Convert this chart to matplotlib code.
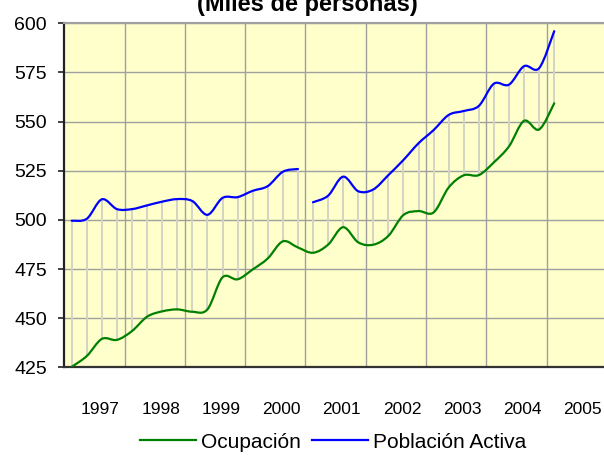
import matplotlib
matplotlib.use("Agg")
import matplotlib.pyplot as plt
import numpy as np
from matplotlib.path import Path
from matplotlib.patches import PathPatch
from matplotlib.lines import Line2D

# ---- data (quarterly, 1997 Q1 .. 2005 Q1) ----
year_labels = ['1997', '1998', '1999', '2000', '2001', '2002', '2003', '2004', '2005']
ocupacion = [425.3, 430.8, 439.5, 439.0, 443.5, 450.8, 453.5, 454.5, 453.3, 454.5,
             470.8, 469.8, 474.8, 480.4, 489.1, 486.0, 483.3, 487.4, 496.3, 488.6,
             487.4, 491.9, 502.5, 504.5, 503.8, 516.5, 522.7, 522.8, 529.3, 537.4,
             550.4, 546.0, 559.3]
# Población Activa: series broken between 2000 Q4 and 2001 Q1
pob_activa_1 = [499.6, 500.6, 510.5, 505.5, 505.5, 507.4, 509.3, 510.6, 509.6, 502.6,
                511.2, 511.6, 514.8, 517.2, 524.5, 525.9]
pob_activa_2 = [509.0, 512.3, 522.0, 514.6, 515.5, 522.8, 530.5, 539.0, 545.7, 553.4,
                555.4, 558.0, 569.3, 568.8, 578.2, 577.2, 596.0]
y_ticks = [425, 450, 475, 500, 525, 550, 575, 600]

GREEN = '#008000'
BLUE = '#0000FF'


def smooth_path(xs, ys):
    """Catmull-Rom style cubic Bezier through the data points (Excel 'smoothed line')."""
    n = len(xs)
    verts = [(xs[0], ys[0])]
    codes = [Path.MOVETO]
    for i in range(n - 1):
        p0 = i - 1 if i > 0 else i
        p3 = i + 2 if i + 2 < n else i + 1
        c1 = (xs[i] + (xs[i + 1] - xs[p0]) / 6.0, ys[i] + (ys[i + 1] - ys[p0]) / 6.0)
        c2 = (xs[i + 1] - (xs[p3] - xs[i]) / 6.0, ys[i + 1] - (ys[p3] - ys[i]) / 6.0)
        verts += [c1, c2, (xs[i + 1], ys[i + 1])]
        codes += [Path.CURVE4] * 3
    return Path(verts, codes)


plt.rcParams['font.family'] = ['Liberation Sans', 'DejaVu Sans']

fig = plt.figure(figsize=(6.04, 4.62), dpi=100)
ax = fig.add_axes([64.2 / 604, 94.6 / 462, (607 - 64.2) / 604, 344.1 / 462])
ax.set_facecolor('#FFFFCC')

n = len(ocupacion)
x_all = np.arange(n)
pob_all = pob_activa_1 + pob_activa_2
x1 = x_all[:len(pob_activa_1)]
x2 = x_all[len(pob_activa_1):]

# high-low (drop) lines
ax.vlines(x_all, ocupacion, pob_all, colors='#D4D4C6', linewidth=1.4, zorder=2)

# smoothed lines
ax.add_patch(PathPatch(smooth_path(x_all, ocupacion), facecolor='none',
                       edgecolor=GREEN, linewidth=1.6, zorder=3, capstyle='round'))
ax.add_patch(PathPatch(smooth_path(x1, pob_activa_1), facecolor='none',
                       edgecolor=BLUE, linewidth=1.6, zorder=3, capstyle='round'))
ax.add_patch(PathPatch(smooth_path(x2, pob_activa_2), facecolor='none',
                       edgecolor=BLUE, linewidth=1.6, zorder=3, capstyle='round'))

ax.set_xlim(-0.5, 35.5)
ax.set_ylim(425, 600)

# y axis
ax.set_yticks(y_ticks)
ax.set_yticklabels([str(v) for v in y_ticks])
ax.tick_params(axis='y', direction='out', length=4.5, width=1.2, color='#222222',
               labelsize=14, pad=8)

# x axis: year labels under each group of 4 quarters
ax.set_xticks([1.9 + 4 * k for k in range(len(year_labels))])
ax.set_xticklabels(year_labels)
ax.set_xticks([3.5 + 4 * k for k in range(len(year_labels) - 1)], minor=True)
ax.tick_params(axis='x', which='both', length=0, labelsize=12.5, pad=25)

ax.grid(False)
ax.xaxis.grid(True, which='minor', color='#A0A0A0', linewidth=1.0, zorder=1)
ax.yaxis.grid(True, which='major', color='#A0A0A0', linewidth=1.0, zorder=1)
ax.set_axisbelow(True)

ax.spines['right'].set_visible(False)
ax.spines['top'].set_color('#A0A0A0')
ax.spines['top'].set_linewidth(1.5)
ax.spines['left'].set_color('#222222')
ax.spines['left'].set_linewidth(1.6)
ax.spines['bottom'].set_color('#333333')
ax.spines['bottom'].set_linewidth(1.6)

# title (partly cut at the top, as in the reference)
fig.text(307 / 604, 1 - 11 / 462, '(Miles de personas)', ha='center', va='baseline',
         fontsize=17, fontweight='bold')

handles = [Line2D([], [], color=GREEN, linewidth=1.6),
           Line2D([], [], color=BLUE, linewidth=1.6)]
fig.legend(handles, ['Ocupación', 'Población Activa'], loc='center',
           bbox_to_anchor=(333 / 604, 1 - 442 / 462), ncol=2, frameon=False,
           fontsize=15, handlelength=2.7, handletextpad=0.25, columnspacing=0.5,
           borderpad=0)

fig.savefig('out.png', dpi=100)
